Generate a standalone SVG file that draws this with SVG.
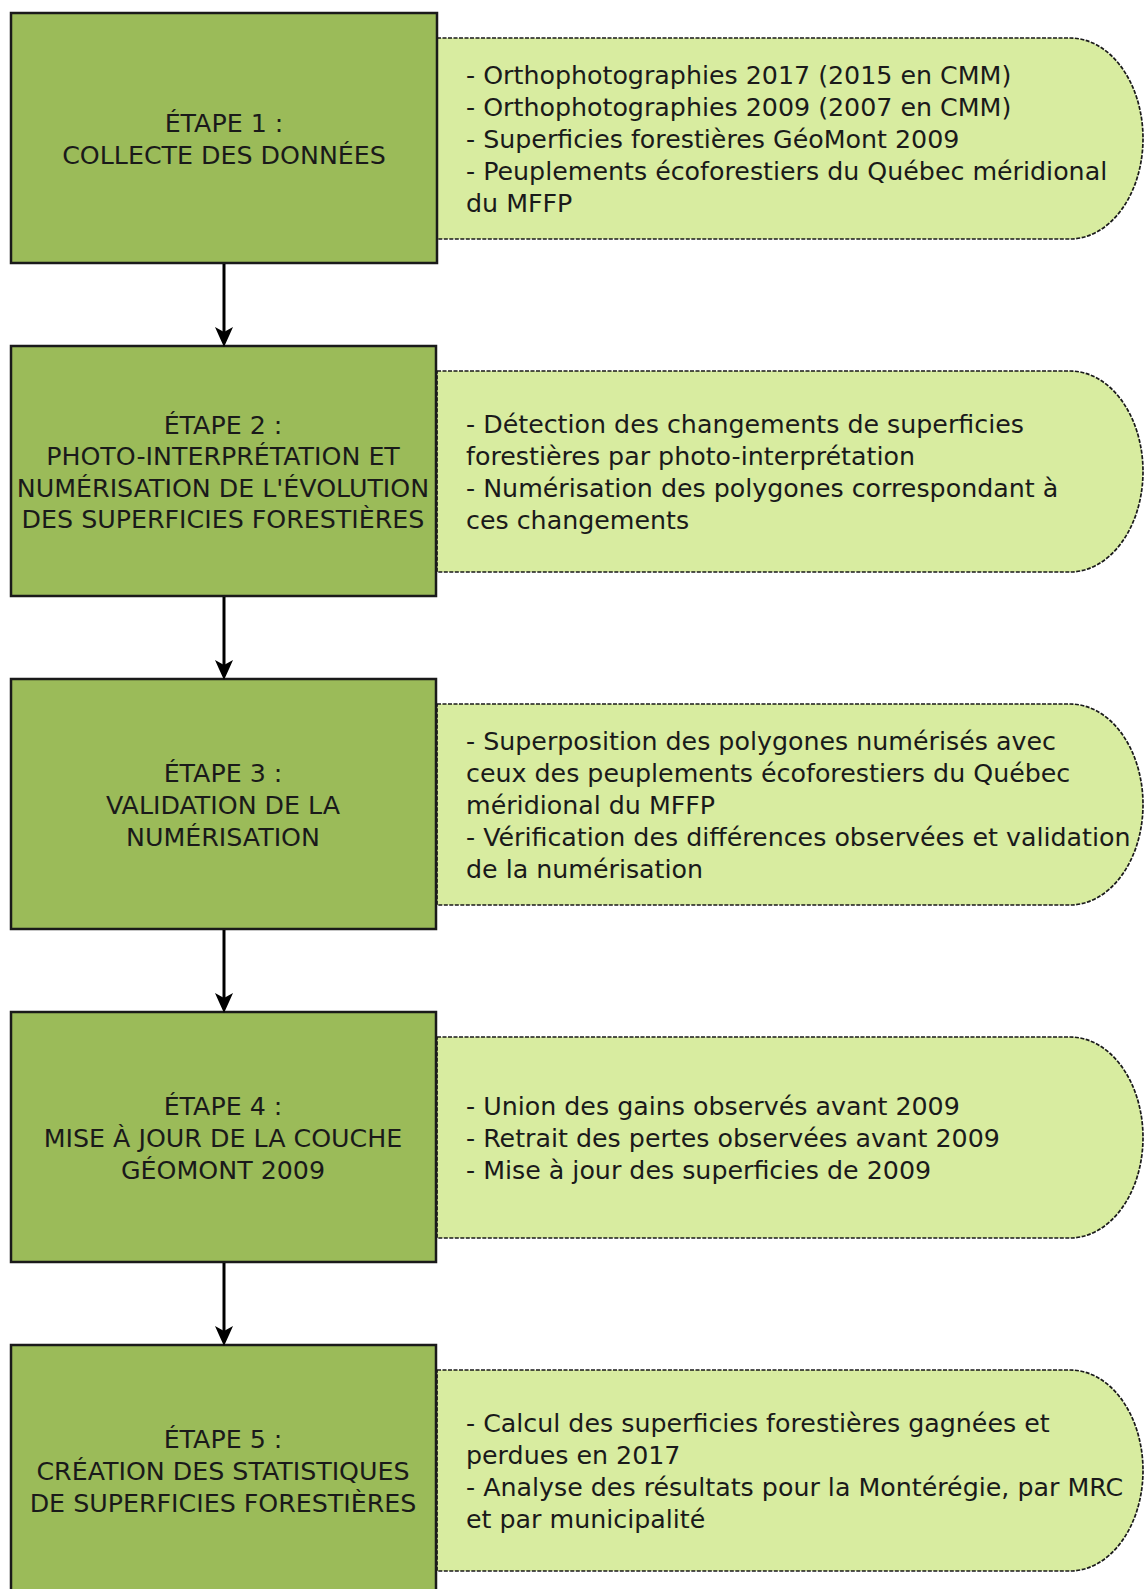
<svg xmlns="http://www.w3.org/2000/svg" width="1145" height="1589" viewBox="0 0 1145 1589">
<style>
.step{fill:#9bbb59;stroke:#1a1a1a;stroke-width:2.5}
.note{fill:#d8eca0;stroke:#1a1a1a;stroke-width:1.7;stroke-dasharray:4 1.5}
.bt{font-family:"DejaVu Sans",sans-serif;font-size:25.3px;fill:#1a1a1a;text-anchor:middle}
.nt{font-family:"DejaVu Sans",sans-serif;font-size:25.3px;fill:#1a1a1a}
.conn{stroke:#000;stroke-width:3;fill:none}
</style>
<defs>
<path id="ah" d="M0,0 L-5,-11 L-9,-20 L0,-15 L9,-20 L5,-11 Z" fill="#000"/>
</defs>
<rect width="1145" height="1589" fill="#fff"/>

<g id="note1">
<path class="note" d="M437,38 H1070 A73,100.5 0 0 1 1070,239 H437 Z"/>
<text class="nt" x="466" y="84">- Orthophotographies 2017 (2015 en CMM)</text>
<text class="nt" x="466" y="116">- Orthophotographies 2009 (2007 en CMM)</text>
<text class="nt" x="466" y="148">- Superficies forestières GéoMont 2009</text>
<text class="nt" x="466" y="180">- Peuplements écoforestiers du Québec méridional</text>
<text class="nt" x="466" y="212">du MFFP</text>
</g>
<g id="note2">
<path class="note" d="M437,371 H1070 A73,100.5 0 0 1 1070,572 H437 Z"/>
<text class="nt" x="466" y="433">- Détection des changements de superficies</text>
<text class="nt" x="466" y="465">forestières par photo-interprétation</text>
<text class="nt" x="466" y="497">- Numérisation des polygones correspondant à</text>
<text class="nt" x="466" y="529">ces changements</text>
</g>
<g id="note3">
<path class="note" d="M437,704 H1070 A73,100.5 0 0 1 1070,905 H437 Z"/>
<text class="nt" x="466" y="750">- Superposition des polygones numérisés avec</text>
<text class="nt" x="466" y="782">ceux des peuplements écoforestiers du Québec</text>
<text class="nt" x="466" y="814">méridional du MFFP</text>
<text class="nt" x="466" y="846">- Vérification des différences observées et validation</text>
<text class="nt" x="466" y="878">de la numérisation</text>
</g>
<g id="note4">
<path class="note" d="M437,1037 H1070 A73,100.5 0 0 1 1070,1238 H437 Z"/>
<text class="nt" x="466" y="1115">- Union des gains observés avant 2009</text>
<text class="nt" x="466" y="1147">- Retrait des pertes observées avant 2009</text>
<text class="nt" x="466" y="1179">- Mise à jour des superficies de 2009</text>
</g>
<g id="note5">
<path class="note" d="M437,1370 H1070 A73,100.5 0 0 1 1070,1571 H437 Z"/>
<text class="nt" x="466" y="1432">- Calcul des superficies forestières gagnées et</text>
<text class="nt" x="466" y="1464">perdues en 2017</text>
<text class="nt" x="466" y="1496">- Analyse des résultats pour la Montérégie, par MRC</text>
<text class="nt" x="466" y="1528">et par municipalité</text>
</g>

<g id="step1">
<rect class="step" x="11" y="13" width="426" height="250"/>
<text class="bt" x="224" y="132">ÉTAPE 1 :</text>
<text class="bt" x="224" y="164">COLLECTE DES DONNÉES</text>
</g>
<g id="step2">
<rect class="step" x="11" y="346" width="425" height="250"/>
<text class="bt" x="223" y="433.6">ÉTAPE 2 :</text>
<text class="bt" x="223" y="465.2">PHOTO-INTERPRÉTATION ET</text>
<text class="bt" x="223" y="496.8">NUMÉRISATION DE L'ÉVOLUTION</text>
<text class="bt" x="223" y="528.4">DES SUPERFICIES FORESTIÈRES</text>
</g>
<g id="step3">
<rect class="step" x="11" y="679" width="425" height="250"/>
<text class="bt" x="223" y="782.4">ÉTAPE 3 :</text>
<text class="bt" x="223" y="814">VALIDATION DE LA</text>
<text class="bt" x="223" y="845.6">NUMÉRISATION</text>
</g>
<g id="step4">
<rect class="step" x="11" y="1012" width="425" height="250"/>
<text class="bt" x="223" y="1115.4">ÉTAPE 4 :</text>
<text class="bt" x="223" y="1147">MISE À JOUR DE LA COUCHE</text>
<text class="bt" x="223" y="1178.6">GÉOMONT 2009</text>
</g>
<g id="step5">
<rect class="step" x="11" y="1345" width="425" height="250"/>
<text class="bt" x="223" y="1448.4">ÉTAPE 5 :</text>
<text class="bt" x="223" y="1480">CRÉATION DES STATISTIQUES</text>
<text class="bt" x="223" y="1511.6">DE SUPERFICIES FORESTIÈRES</text>
</g>

<g id="connectors">
<line class="conn" x1="224" y1="264" x2="224" y2="334"/>
<use href="#ah" x="224" y="347"/>
<line class="conn" x1="224" y1="597" x2="224" y2="667"/>
<use href="#ah" x="224" y="680"/>
<line class="conn" x1="224" y1="930" x2="224" y2="1000"/>
<use href="#ah" x="224" y="1013"/>
<line class="conn" x1="224" y1="1263" x2="224" y2="1333"/>
<use href="#ah" x="224" y="1346"/>
</g>
</svg>
